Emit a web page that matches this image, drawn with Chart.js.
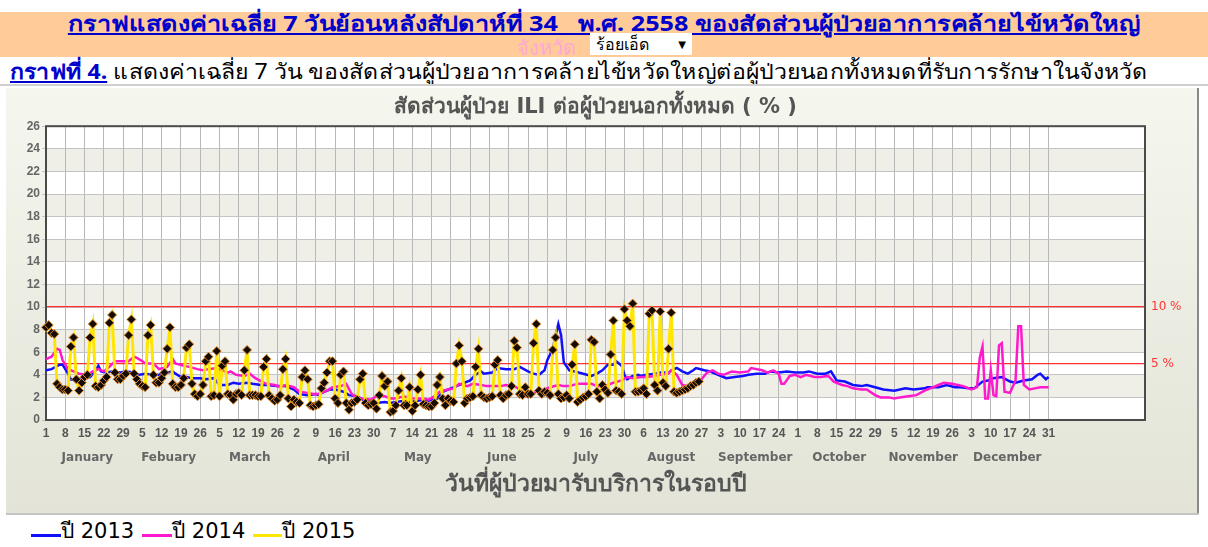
<!DOCTYPE html>
<html>
<head>
<meta charset="utf-8">
<script src="https://cdn.jsdelivr.net/npm/chart.js@4"></script>
<style>
  body { margin: 0; width: 1208px; height: 547px; overflow: hidden; background: #fff; position: relative;
         font-family: "Noto Sans", "DejaVu Sans", sans-serif; }
  #band { position: absolute; left: 0; top: 12px; width: 1208px; height: 45px; background: #ffcc99; }
  #h1 { position: absolute; left: 0; top: -5px; width: 1208px; text-align: center; font-size: 21px; font-weight: bold;
        color: #0000cc; text-decoration: underline; white-space: nowrap; transform: scaleX(1.2); transform-origin: 604px 0; }
  #pv { position: absolute; left: 517px; top: 20px; font-size: 20px; color: #ffa8d4; }
  #sel { position: absolute; left: 590px; top: 21px; width: 102px; height: 22px; background: #fff; font-size: 16px;
         color: #000; line-height: 22px; padding-left: 6px; box-sizing: border-box; }
  #sel span { position: absolute; right: 6px; top: 0; font-size: 10px; }
  #h3 { position: absolute; left: 10px; top: 55px; font-size: 21px; color: #000; white-space: nowrap;
        transform: scaleX(1.1); transform-origin: 0 0; }
  #h3 a { color: #0000cc; font-weight: bold; text-decoration: underline; }
  #sep { position: absolute; left: 0; top: 84px; width: 1208px; height: 2px; background: #cfcfcf; }
  #panel { position: absolute; left: 6px; top: 88px; width: 1191px; height: 425px;
           background: linear-gradient(#f5f6ee, #e3e4d7); border-right: 2px solid #8a8a8a; }
  #foot { position: absolute; left: 6px; top: 513px; width: 1193px; height: 2px; background: #c4c4c4; }
  #legend { position: absolute; left: 31px; top: 514px; font-family: "DejaVu Sans", sans-serif; font-size: 21px;
            color: #000; white-space: nowrap; }
  #legend i { display: inline-block; height: 3px; vertical-align: 1px; }
  #legend b { font-weight: normal; margin-right: 8px; }
</style>
</head>
<body>
<div id="band">
  <div id="h1">กราฟแสดงค่าเฉลี่ย 7 วันย้อนหลังสัปดาห์ที่ 34&nbsp;&nbsp; พ.ศ. 2558 ของสัดส่วนผู้ป่วยอาการคล้ายไข้หวัดใหญ่</div>
  <div id="pv">จังหวัด</div>
  <div id="sel">ร้อยเอ็ด<span>▼</span></div>
</div>
<div id="h3"><a>กราฟที่ 4.</a> แสดงค่าเฉลี่ย 7 วัน ของสัดส่วนผู้ป่วยอาการคล้ายไข้หวัดใหญ่ต่อผู้ป่วยนอกทั้งหมดที่รับการรักษาในจังหวัด</div>
<div id="sep"></div>
<div id="panel"><canvas id="ili" width="1191" height="425"></canvas></div>
<div id="foot"></div>
<div id="legend"><i style="background:#1010ff;width:30px"></i><b>ปี 2013</b><i style="background:#ff19cc;width:30px"></i><b>ปี 2014</b><i style="background:#ffe600;width:29px"></i><b>ปี 2015</b></div>

<script>
// แกน x : วันในรอบปี (1 - 365)
const weekDays = [1,8,15,22,29,36,43,50,57,64,71,78,85,92,99,106,113,120,127,134,141,148,155,162,169,176,183,190,197,204,211,218,225,232,239,246,253,260,267,274,281,288,295,302,309,316,323,330,337,344,351,358,365];
const weekLabels = ["1","8","15","22","29","5","12","19","26","5","12","19","26","2","9","16","23","30","7","14","21","28","4","11","18","25","2","9","16","23","30","6","13","20","27","3","10","17","24","1","8","15","22","29","5","12","19","26","3","10","17","24","31"];
const monthMid = [16,45.5,75,105.5,136,166.5,197,228,258.5,289,319.5,350];
const monthNames = ["January","Febuary","March","April","May","June","July","August","September","October","November","December"];

// เส้นเกณฑ์
const refValues = [5, 10];
const refLabels = ["5 %", "10 %"];

// ปี 2013
const days2013 = [1,3,6,7,9,10,12,14,17,19,20,21,23,25,28,30,33,35,37,40,42,45,47,48,50,52,54,57,59,62,64,67,69,71,74,76,79,81,85,88,91,93,96,99,100,102,104,106,109,111,114,116,119,121,124,126,128,131,133,136,138,140,143,145,148,150,153,155,157,159,160,163,165,168,171,173,176,178,180,182,183,185,186,187,188,189,191,193,196,199,201,203,205,207,208,210,211,212,214,216,217,219,222,224,227,229,230,232,234,236,237,240,242,245,248,251,254,256,259,262,264,267,270,273,276,278,281,284,286,288,291,294,297,299,302,305,309,313,316,320,321,325,328,331,333,336,338,341,343,345,348,351,353,356,359,361,362,364,365];
const ili2013 = [4.4,4.5,4.9,4.9,4.1,3.6,3.5,3.7,3.8,4.4,4.8,4.3,4.2,4.3,4.2,4.3,4.2,4.0,4.1,4.0,4.0,4.2,4.3,4.1,3.8,3.8,3.7,3.7,3.6,3.7,3.1,3.1,3.3,3.2,3.3,3.2,3.1,3.1,3.0,3.0,2.7,2.3,2.2,2.3,2.2,2.5,2.7,2.7,2.5,2.2,2.1,1.8,1.6,1.5,1.6,1.5,1.6,1.7,1.6,1.7,1.8,1.7,1.9,2.5,2.8,3.0,3.3,3.5,4.0,4.3,4.1,4.2,4.6,4.5,4.5,4.7,4.3,4.1,4.0,4.4,5.3,6.3,7.5,8.5,7.5,5.1,4.4,4.3,4.1,3.9,4.1,4.4,4.9,4.9,5.2,4.8,4.0,3.6,3.9,4.0,3.9,4.0,4.1,4.2,4.2,4.5,4.6,4.3,4.1,4.4,4.6,4.4,4.3,4.0,3.7,3.8,3.9,4.0,4.1,4.1,4.3,4.2,4.3,4.2,4.2,4.3,4.1,4.1,4.3,3.5,3.4,3.1,3.0,3.1,2.9,2.7,2.6,2.8,2.7,2.8,2.9,2.9,3.1,2.9,2.9,2.8,2.8,3.4,3.5,3.7,3.8,3.4,3.3,3.5,3.6,4.0,4.1,3.6,3.8];

// ปี 2014
const days2014 = [1,3,5,6,7,9,11,13,16,18,20,22,24,26,28,31,33,34,36,37,40,42,45,47,48,51,53,56,58,60,63,65,67,68,70,73,75,77,80,81,84,86,88,91,93,96,98,100,103,105,108,110,112,114,116,119,121,124,126,128,131,133,136,138,140,142,144,147,149,151,154,156,159,161,164,166,168,171,173,175,177,179,182,184,187,189,191,194,196,199,201,204,205,207,210,212,214,217,219,222,224,227,228,230,232,234,236,239,241,243,245,247,250,253,256,257,261,263,265,267,268,269,271,273,275,277,280,282,285,287,290,292,294,297,299,302,304,307,309,311,314,317,320,322,325,327,330,332,334,337,339,340,341,342,343,344,345,346,347,348,349,351,353,354,355,356,358,360,362,365];
const ili2014 = [5.4,5.6,6.3,6.2,5.3,4.5,4.3,4.1,4.0,4.3,4.5,4.3,4.7,5.2,5.2,5.2,5.6,5.5,5.2,5.0,5.0,4.5,4.7,5.4,5.0,4.8,4.7,4.5,4.4,4.5,4.6,4.4,4.2,4.3,4.0,3.9,4.1,3.7,3.3,3.2,3.1,2.9,3.1,2.9,2.5,2.4,2.3,2.3,2.6,2.9,3.0,3.2,2.3,1.9,1.9,1.8,2.1,2.1,1.9,1.9,2.1,1.9,1.9,1.9,1.8,2.1,2.5,2.7,2.8,3.2,3.0,3.2,3.1,3.0,3.0,3.0,3.1,3.0,2.7,2.1,2.2,2.5,2.7,2.9,3.1,3.0,3.0,3.2,3.2,3.2,3.0,3.0,3.1,3.3,3.5,3.8,3.7,3.8,3.8,3.9,4.0,4.1,4.4,4.0,3.1,3.0,3.3,3.6,4.2,4.4,4.1,4.0,4.3,4.2,4.3,4.6,4.4,4.2,4.4,4.1,3.2,3.2,3.9,4.0,3.8,4.0,3.8,3.8,3.9,3.4,3.1,3.0,2.8,2.7,2.7,2.2,2.0,2.0,1.9,2.0,2.1,2.2,2.6,2.8,3.1,3.3,3.2,3.1,3.0,2.7,2.9,5.5,6.5,1.9,1.9,4.4,2.2,2.1,6.6,6.8,2.5,2.4,3.5,8.3,8.3,3.1,2.7,2.8,2.9,2.9];

// ปี 2015 (รายวัน เริ่ม 1 ม.ค.)
const ili2015 = [
  8.2,8.4,7.7,7.6,3.2,2.9,2.7,2.7,2.6,6.5,
  7.3,3.6,2.6,3.3,3.8,4.0,7.3,8.5,3.0,2.9,
  3.1,3.5,3.8,8.6,9.3,4.2,3.6,3.6,3.9,4.1,
  7.5,8.9,4.1,3.6,3.2,3.0,2.9,7.5,8.4,4.0,
  3.3,3.3,3.7,4.2,6.3,8.2,3.2,2.9,2.9,3.1,
  3.7,6.4,6.7,3.2,2.3,2.1,2.3,3.1,5.2,5.6,
  2.1,2.2,6.1,2.1,4.8,5.2,2.3,2.2,1.8,2.3,
  2.4,2.2,4.4,6.2,2.2,2.2,2.2,2.1,2.1,4.7,
  5.4,2.2,1.9,1.7,1.8,2.2,4.5,5.4,1.9,1.2,
  1.8,1.6,1.5,3.8,4.4,3.6,1.3,1.2,1.3,1.4,
  2.8,3.3,4.2,5.2,5.2,1.9,1.5,4.0,4.3,1.5,
  0.9,1.5,1.6,1.8,3.6,4.1,1.5,1.3,1.4,1.5,
  1.0,2.2,3.9,3.0,3.4,0.7,0.8,1.3,2.6,3.7,
  1.3,1.3,2.9,0.8,1.3,2.7,4.0,1.4,1.3,1.2,
  1.2,1.5,3.1,3.8,1.9,1.3,1.9,1.7,1.6,5.0,
  6.6,5.2,1.5,1.9,2.0,2.1,4.7,6.3,2.2,2.0,
  1.9,2.0,2.1,4.9,5.3,2.2,1.9,2.2,2.3,3.0,
  7.0,6.4,2.3,2.2,2.9,2.3,2.3,6.8,8.5,2.6,
  2.3,2.5,2.4,2.2,6.2,7.3,2.3,1.9,2.0,2.2,
  1.9,4.9,6.7,1.6,1.8,2.0,2.1,2.3,7.1,6.9,
  2.5,1.9,3.1,2.7,2.4,5.8,8.8,2.6,2.5,2.3,
  9.8,8.8,8.3,10.3,2.5,2.5,2.6,2.8,2.3,9.4,
  9.7,3.1,2.6,9.6,3.3,3.0,6.3,9.5,2.5,2.4,
  2.5,2.6,2.7,2.8,3.0,3.1,3.3,3.4
];

function toPoints(days, values) {
  return values.map((v, i) => ({ x: days ? days[i] : i + 1, y: v }));
}

// แถบสีสลับพื้นหลัง + กรอบ
const bandPlugin = {
  id: "bands",
  beforeDraw(chart) {
    const { ctx, chartArea: a, scales } = chart;
    const y = scales.y;
    ctx.save();
    ctx.fillStyle = "#ffffff";
    ctx.fillRect(a.left, a.top, a.right - a.left, a.bottom - a.top);
    ctx.fillStyle = "#efefe8";
    for (let v = 2; v < 26; v += 4) {
      const top = y.getPixelForValue(v + 2), bot = y.getPixelForValue(v);
      ctx.fillRect(a.left, top, a.right - a.left, bot - top);
    }
    ctx.restore();
  },
  beforeDatasetsDraw(chart) {
    const { ctx, chartArea: a } = chart;
    ctx.save();
    ctx.strokeStyle = "#4a4a4a";
    ctx.lineWidth = 2;
    ctx.strokeRect(a.left, a.top, a.right - a.left, a.bottom - a.top);
    ctx.restore();
  }
};

const thaiFont = "'DejaVu Sans', 'Noto Sans', sans-serif";

const ctx = document.getElementById("ili").getContext("2d");
new Chart(ctx, {
  type: "line",
  data: {
    datasets: [
      {
        label: "ปี 2015",
        data: toPoints(null, ili2015),
        borderColor: "#ffe600",
        borderWidth: 3,
        pointStyle: "rectRot",
        pointRadius: 4.5,
        pointBackgroundColor: "#140c04",
        pointBorderColor: "#e08a2a",
        pointBorderWidth: 1,
        clip: false
      },
      {
        label: "ปี 2014",
        data: toPoints(days2014, ili2014),
        borderColor: "#ff19cc",
        borderWidth: 2.5,
        pointRadius: 0
      },
      {
        label: "ปี 2013",
        data: toPoints(days2013, ili2013),
        borderColor: "#1010ff",
        borderWidth: 2.5,
        pointRadius: 0
      }
    ]
  },
  options: {
    responsive: false,
    animation: false,
    devicePixelRatio: 1,
    layout: { padding: { left: 0, right: 0, top: 0, bottom: 14 } },
    plugins: {
      legend: { display: false },
      tooltip: { enabled: false },
      title: {
        display: true,
        fullSize: false,
        text: "สัดส่วนผู้ป่วย ILI ต่อผู้ป่วยนอกทั้งหมด ( % )",
        color: "#555",
        font: { family: thaiFont, size: 21, weight: "bold" },
        padding: { top: 7, bottom: 6 }
      }
    },
    scales: {
      x: {
        type: "linear", position: "bottom", min: 1, max: 400,
        afterBuildTicks: s => { s.ticks = weekDays.map(v => ({ value: v })); },
        afterFit: s => { s.height = 24; },
        ticks: { autoSkip: false, maxRotation: 0, padding: 6, color: "#555", font: { size: 12, weight: "bold" },
                 callback: (v, i) => weekLabels[i] },
        grid: { color: "#b8b8b8", drawTicks: false },
        border: { display: false }
      },
      xm: {
        type: "linear", position: "bottom", min: 1, max: 400,
        afterBuildTicks: s => { s.ticks = monthMid.map(v => ({ value: v })); },
        afterFit: s => { s.height = 55; },
        ticks: { autoSkip: false, maxRotation: 0, padding: 7, color: "#666",
                 font: { family: "'DejaVu Sans', sans-serif", size: 12, weight: "bold" },
                 callback: (v, i) => monthNames[i] },
        grid: { display: false, drawTicks: false },
        border: { display: false },
        title: { display: true, text: "วันที่ผู้ป่วยมารับบริการในรอบปี", color: "#555",
                 font: { family: thaiFont, size: 23, weight: "bold" }, padding: { top: 0, bottom: 0 } }
      },
      y: {
        min: 0, max: 26,
        afterFit: s => { s.width = 40; },
        ticks: { stepSize: 2, padding: 2, color: "#666", font: { size: 12, weight: "bold" } },
        grid: { color: "#c4c4c4", tickLength: 4 },
        border: { display: false }
      },
      y2: {
        position: "right", min: 0, max: 26,
        afterBuildTicks: s => { s.ticks = refValues.map(v => ({ value: v })); },
        afterFit: s => { s.width = 52; },
        ticks: { padding: 6, color: "#ff3333", font: { family: "'DejaVu Sans', sans-serif", size: 12 },
                 callback: (v, i) => refLabels[i] },
        grid: { color: "#ff3030", lineWidth: 1.2, drawTicks: false },
        border: { display: false }
      }
    }
  },
  plugins: [bandPlugin]
});
</script>
</body>
</html>
